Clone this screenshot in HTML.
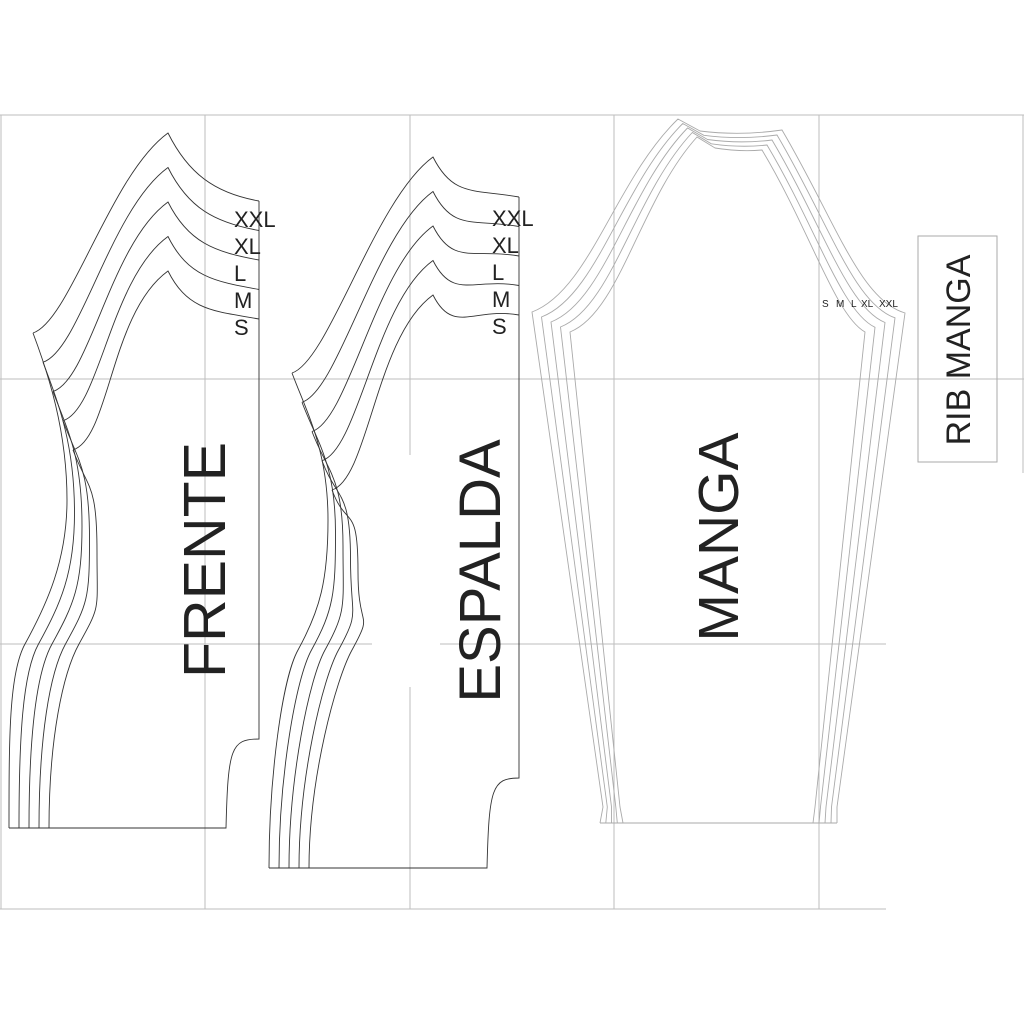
<!DOCTYPE html>
<html><head><meta charset="utf-8"><style>
html,body{margin:0;padding:0;background:#fff;}
svg{display:block;}
text{font-family:"Liberation Sans",Arial,sans-serif;}
</style></head><body>
<svg id="s" width="1024" height="1024" viewBox="0 0 1024 1024" xmlns="http://www.w3.org/2000/svg">
<rect width="1024" height="1024" fill="#fff"/>
<g stroke="#bdbdbd" stroke-width="1" fill="none">
<line x1="0" y1="115" x2="1024" y2="115"/>
<line x1="0" y1="379" x2="1024" y2="379"/>
<line x1="0" y1="644" x2="372" y2="644"/>
<line x1="440" y1="644" x2="886" y2="644"/>
<line x1="0" y1="909" x2="886" y2="909"/>
<line x1="1" y1="115" x2="1" y2="909"/>
<line x1="205" y1="115" x2="205" y2="909"/>
<line x1="410" y1="115" x2="410" y2="455"/>
<line x1="410" y1="687" x2="410" y2="909"/>
<line x1="614" y1="115" x2="614" y2="909"/>
<line x1="819" y1="115" x2="819" y2="909"/>
<line x1="1023" y1="115" x2="1023" y2="473"/>
<rect x="918" y="236" width="79" height="226" stroke="#aaa"/>
</g>
<g id="fr" fill="none" stroke="#333" stroke-width="0.9"></g>
<g id="mg" fill="none" stroke="#aaa" stroke-width="0.9"></g>
<g fill="#222">
<text x="0" y="0" font-size="59" text-anchor="middle" transform="translate(225,560) rotate(-90)">FRENTE</text>
<text x="0" y="0" font-size="58" text-anchor="middle" transform="translate(500,571) rotate(-90)">ESPALDA</text>
<text x="0" y="0" font-size="57" text-anchor="middle" transform="translate(738,537) rotate(-90)">MANGA</text>
<text x="0" y="0" font-size="34" text-anchor="middle" transform="translate(970,350) rotate(-90)">RIB MANGA</text>
<g font-size="22">
<text x="234" y="227">XXL</text><text x="234" y="254">XL</text><text x="234" y="281">L</text><text x="234" y="308">M</text><text x="234" y="335">S</text>
<text x="492" y="226">XXL</text><text x="492" y="253">XL</text><text x="492" y="280">L</text><text x="492" y="307">M</text><text x="492" y="334">S</text>
</g>
<g font-size="10"><text x="822" y="307">S</text><text x="836" y="307">M</text><text x="851" y="307">L</text><text x="861" y="307">XL</text><text x="879" y="307">XXL</text></g>
</g>
</svg>
<script>
var fr=document.getElementById('fr'),mg=document.getElementById('mg'),out='',m='';
function piece(o){
 for(var i=0;i<5;i++){
  var Lx=o.lx+10*i,Ly=o.ly+29.25*i,Py=o.py+34.5*i,Ry=o.ry+29.5*i;
  out+='<path d="M'+Lx+','+Ly+' C'+(Lx+37)+','+(Ly-12)+' '+(o.px-58)+','+(Py+42)+' '+o.px+','+Py+
   ' C'+(o.px+20)+','+(Py+40)+' '+(o.rx-45)+','+(Ry-8)+' '+o.rx+','+Ry+'"/>';
  var bx=o.bx+7.5*i,by=o.by+13*i,x6=o.x6+13.5*i,xb=o.xb+10*i;
  out+='<path d="M'+Lx+','+Ly+' C'+(Lx+15)+','+(Ly+40)+' '+bx+','+(by-70)+' '+bx+','+by+
   ' C'+bx+','+(by+60)+' '+(x6+22)+','+(o.y6-40)+' '+x6+','+o.y6+
   ' C'+(x6-16)+','+(o.y6+29)+' '+xb+','+(o.hy-90)+' '+xb+','+o.hy+'"/>';
 }
 out+='<path d="M'+o.xb+','+o.hy+' L'+o.hx+','+o.hy+' C'+(o.hx+2)+','+(o.hy-80)+' '+(o.hx+5)+','+(o.cy)+' '+o.rx+','+o.cy+' L'+o.rx+','+o.ry+'"/>';
}
piece({lx:33,ly:333,px:168,py:133,rx:259,ry:201,bx:67,by:500,x6:25,y6:644,xb:9,hy:828,hx:226,cy:739});
piece({lx:292,ly:373,px:433,py:157,rx:519,ry:197,bx:328,by:520,x6:298,y6:650,xb:269,hy:868,hx:487,cy:778});
fr.innerHTML=out;
function lp(a,b,t){return (a+(b-a)*t).toFixed(1);}
var A={L:[532,312],c1:[590,290],c2:[615,180],P:[678,119],K:[700,131],Q:[740,136],T:[782,130],d1:[835,220],d2:[860,300],R:[905,313],RB:[837,807],RH:[837,823],LH:[600,823],LB:[603,807]};
var B={L:[570,332],c1:[620,312],c2:[640,200],P:[697,137],K:[715,148],Q:[740,152],T:[762,150],d1:[810,230],d2:[835,315],R:[865,332],RB:[815,807],RH:[813,823],LH:[623,823],LB:[620,807]};
for(var i=0;i<5;i++){var t=i/4;function p(k){return lp(A[k][0],B[k][0],t)+','+lp(A[k][1],B[k][1],t);}
 m+='<path d="M'+p('LH')+' L'+p('LB')+' L'+p('L')+' C'+p('c1')+' '+p('c2')+' '+p('P')+' L'+p('K')+' Q'+p('Q')+' '+p('T')+' C'+p('d1')+' '+p('d2')+' '+p('R')+' L'+p('RB')+' L'+p('RH')+'"/>';}
m+='<line x1="600" y1="823" x2="837" y2="823"/>';
mg.innerHTML=m;
</script>
</body></html>
